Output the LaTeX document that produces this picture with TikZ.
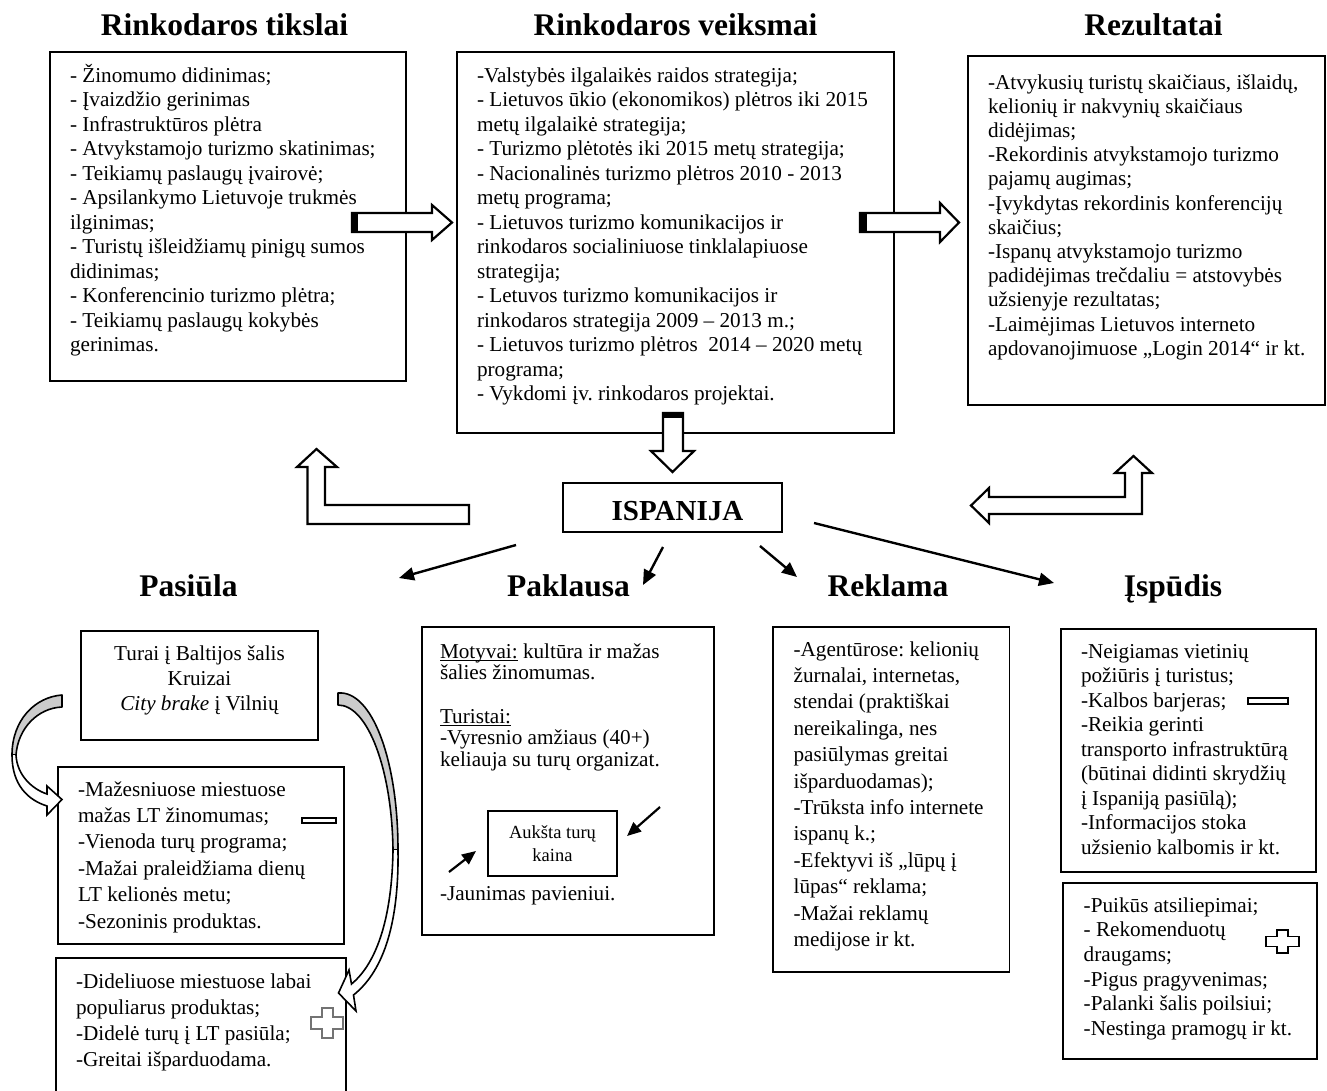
\documentclass[tikz,border=0pt]{standalone}
\usepackage{fontspec}
\setmainfont{Liberation Serif}
\usetikzlibrary{arrows.meta}
\frenchspacing
\newsavebox{\ulbox}
\newcommand{\bodyfs}[1]{\fontsize{21.2}{#1}\selectfont}
\newcommand{\ulx}[1]{\leavevmode\sbox{\ulbox}{#1}\rlap{\rule[-3pt]{\wd\ulbox}{1.1pt}}\usebox{\ulbox}}
\begin{document}
\begin{tikzpicture}[x=1pt,y=-1pt,
  boxst/.style={draw=black, line width=1.3pt, inner sep=0pt, outer sep=0pt, anchor=north west, fill=white},
  titlest/.style={font=\fontsize{31.5}{36}\selectfont\bfseries, inner sep=0pt, anchor=base},
  txt/.style={inner sep=0pt, outer sep=0pt, anchor=base west},
  ctxt/.style={inner sep=0pt, outer sep=0pt, anchor=base},
  blockarrow/.style={draw=black, line width=2.2pt, fill=white, line join=miter},
  linearrow/.style={line width=2.4pt, -{Triangle[length=15pt,width=13pt]}},
  smallarrow/.style={line width=2.2pt, -{Triangle[length=14pt,width=12pt]}},
  curvedback/.style={fill=gray!40, draw=black, line width=1.6pt, line join=round},
  curvedfront/.style={fill=white, draw=black, line width=1.6pt, line join=miter},
  signst/.style={line width=1.8pt, fill=white, line join=miter}
]
\fill[white] (0,0) rectangle (1327,1090);
\useasboundingbox (0,0) rectangle (1327,1090);

% ---------- titles ----------
\node[titlest] (tTikslai) at (224.5,35) {Rinkodaros tikslai};
\node[titlest] (tVeiksmai) at (675.5,35) {Rinkodaros veiksmai};
\node[titlest] (tRezultatai) at (1153.5,35) {Rezultatai};
\node[titlest] (tPasiula) at (188.5,596) {Pasiūla};
\node[titlest] (tPaklausa) at (568.5,596) {Paklausa};
\node[titlest] (tReklama) at (888,596) {Reklama};
\node[titlest] (tIspudis) at (1173,596) {Įspūdis};

% ---------- boxes ----------
\node[boxst, minimum width=356pt, minimum height=329pt] (b1) at (50,52) {};
\node[boxst, minimum width=437pt, minimum height=381pt] (b2) at (457,52) {};
\node[boxst, minimum width=357pt, minimum height=349pt] (b3) at (968,56) {};
\node[boxst, minimum width=219pt, minimum height=49pt] (bIsp) at (563,483) {};
\node[boxst, minimum width=237pt, minimum height=109pt] (bTurai) at (81,631) {};
\node[boxst, minimum width=286pt, minimum height=177pt] (bMinus) at (58,767) {};
\node[boxst, minimum width=290pt, minimum height=150pt] (bPlus) at (56,958) {};
\node[boxst, minimum width=292pt, minimum height=308pt] (bPak) at (422,627) {};
\node[boxst, minimum width=129pt, minimum height=65pt] (bAuk) at (488,811) {};
\node[boxst, minimum width=236.5pt, minimum height=345pt] (bRek) at (773,627) {};
\node[boxst, minimum width=255pt, minimum height=243pt] (bIsp1) at (1061,629) {};
\node[boxst, minimum width=254pt, minimum height=176pt] (bIsp2) at (1063,883) {};

% ---------- texts ----------
\node[txt] (x1) at (70,82) {\parbox[t]{400pt}{\bodyfs{24.5}%
- Žinomumo didinimas;\\
- Įvaizdžio gerinimas\\
- Infrastruktūros plėtra\\
- Atvykstamojo turizmo skatinimas;\\
- Teikiamų paslaugų įvairovė;\\
- Apsilankymo Lietuvoje trukmės\\
ilginimas;\\
- Turistų išleidžiamų pinigų sumos\\
didinimas;\\
- Konferencinio turizmo plėtra;\\
- Teikiamų paslaugų kokybės\\
gerinimas.}};

\node[txt] (x2) at (477,82) {\parbox[t]{450pt}{\bodyfs{24.5}%
-Valstybės ilgalaikės raidos strategija;\\
- Lietuvos ūkio (ekonomikos) plėtros iki 2015\\
metų ilgalaikė strategija;\\
- Turizmo plėtotės iki 2015 metų strategija;\\
- Nacionalinės turizmo plėtros 2010 - 2013\\
metų programa;\\
- Lietuvos turizmo komunikacijos ir\\
rinkodaros socialiniuose tinklalapiuose\\
strategija;\\
- Letuvos turizmo komunikacijos ir\\
rinkodaros strategija 2009 – 2013 m.;\\
- Lietuvos turizmo plėtros\ \ 2014 – 2020 metų\\
programa;\\
- Vykdomi įv. rinkodaros projektai.}};

\node[txt] (x3) at (988,89) {\parbox[t]{400pt}{\bodyfs{24.2}%
-Atvykusių turistų skaičiaus, išlaidų,\\
kelionių ir nakvynių skaičiaus\\
didėjimas;\\
-Rekordinis atvykstamojo turizmo\\
pajamų augimas;\\
-Įvykdytas rekordinis konferencijų\\
skaičius;\\
-Ispanų atvykstamojo turizmo\\
padidėjimas trečdaliu = atstovybės\\
užsienyje rezultatas;\\
-Laimėjimas Lietuvos interneto\\
apdovanojimuose „Login 2014“ ir kt.}};

\node[ctxt, font=\fontsize{29}{34}\selectfont\bfseries] (xIspanija) at (677.5,520) {ISPANIJA};

\node[ctxt] (xTurai) at (199.5,660) {\parbox[t]{237pt}{\centering\bodyfs{25}%
Turai į Baltijos šalis\\
Kruizai\\
\textit{City brake} į Vilnių}};

\node[txt] (xMinus) at (78,796) {\parbox[t]{400pt}{\bodyfs{26.4}%
-Mažesniuose miestuose\\
mažas LT žinomumas;\\
-Vienoda turų programa;\\
-Mažai praleidžiama dienų\\
LT kelionės metu;\\
-Sezoninis produktas.}};

\node[txt] (xPlus) at (76,988) {\parbox[t]{400pt}{\bodyfs{26.3}%
-Dideliuose miestuose labai\\
populiarus produktas;\\
-Didelė turų į LT pasiūla;\\
-Greitai išparduodama.}};

\node[txt] (xPak) at (440,658) {\parbox[t]{400pt}{\bodyfs{21.7}%
\ulx{Motyvai:} kultūra ir mažas\\
šalies žinomumas.\\
\mbox{}\\
\ulx{Turistai:}\\
-Vyresnio amžiaus (40+)\\
keliauja su turų organizat.}};
\node[txt] (xJaun) at (440,900) {\bodyfs{21.7}-Jaunimas pavieniui.};

\node[ctxt] (xAuk) at (552.5,838) {\parbox[t]{129pt}{\centering\fontsize{18.5}{23}\selectfont
Aukšta turų\\
kaina}};

\node[txt] (xRek) at (793.6,656) {\parbox[t]{400pt}{\bodyfs{26.4}%
-Agentūrose: kelionių\\
žurnalai, internetas,\\
stendai (praktiškai\\
nereikalinga, nes\\
pasiūlymas greitai\\
išparduodamas);\\
-Trūksta info internete\\
ispanų k.;\\
-Efektyvi iš „lūpų į\\
lūpas“ reklama;\\
-Mažai reklamų\\
medijose ir kt.}};

\node[txt] (xIsp1) at (1081,658) {\parbox[t]{400pt}{\bodyfs{24.5}%
-Neigiamas vietinių\\
požiūris į turistus;\\
-Kalbos barjeras;\\
-Reikia gerinti\\
transporto infrastruktūrą\\
(būtinai didinti skrydžių\\
į Ispaniją pasiūlą);\\
-Informacijos stoka\\
užsienio kalbomis ir kt.}};

\node[txt] (xIsp2) at (1083.7,912) {\parbox[t]{400pt}{\bodyfs{24.7}%
-Puikūs atsiliepimai;\\
- Rekomenduotų\\
draugams;\\
-Pigus pragyvenimas;\\
-Palanki šalis poilsiui;\\
-Nestinga pramogų ir kt.}};

% ---------- block arrows ----------
\draw[blockarrow] (352,213) -- (432,213) -- (432,205) -- (452,222.5) -- (432,240) -- (432,232) -- (352,232) -- cycle;
\fill[black] (351,212) rectangle (358,233);
\draw[blockarrow] (860,213) -- (940,213) -- (940,203) -- (959,222.5) -- (940,242) -- (940,232) -- (860,232) -- cycle;
\fill[black] (859,212) rectangle (867,233);
\draw[blockarrow] (663,413) -- (663,451) -- (651,451) -- (672.5,472) -- (694,451) -- (683,451) -- (683,413) -- cycle;
\fill[black] (662,412) rectangle (684,418);

% L arrow towards Rinkodaros tikslai
\draw[blockarrow] (469,505) -- (325,505) -- (325,467) -- (337,467) -- (316.5,449) -- (297,467) -- (307.5,467) -- (307.5,524) -- (469,524) -- cycle;
% left-up arrow towards Rezultatai
\draw[blockarrow] (971,505.5) -- (989,488) -- (989,497) -- (1125,497) -- (1125,473) -- (1115,473) -- (1133.5,456) -- (1152,473) -- (1142,473) -- (1142,514) -- (989,514) -- (989,523) -- cycle;

% ---------- line arrows from ISPANIJA ----------
\coordinate (aPasS) at (516,545);   \coordinate (aPasE) at (399,578);
\coordinate (aPakS) at (663,547);   \coordinate (aPakE) at (643,585);
\coordinate (aRekS) at (760,546);   \coordinate (aRekE) at (797,577);
\coordinate (aIspS) at (814,523);   \coordinate (aIspE) at (1054,583);
\draw[linearrow] (aPasS) -- (aPasE);
\draw[linearrow] (aPakS) -- (aPakE);
\draw[linearrow] (aRekS) -- (aRekE);
\draw[linearrow] (aIspS) -- (aIspE);

% small arrows towards "Aukšta turų kaina"
\coordinate (sA1) at (449,872); \coordinate (sA1e) at (476,851);
\coordinate (sA2) at (660,807); \coordinate (sA2e) at (627,836);
\draw[smallarrow] (sA1) -- (sA1e);
\draw[smallarrow] (sA2) -- (sA2e);

% ---------- curved arrows (Pasiūla) ----------
\filldraw[curvedback] (62,695) .. controls (35,697) and (12,720) .. (12,755) -- (16,755) .. controls (18,728) and (38,708) .. (62,707) -- cycle;
\filldraw[curvedfront] (16,755) .. controls (17,775) and (32,789) .. (47,794) -- (47,786) -- (62,799.5) -- (47,815) -- (47,806) .. controls (28,800) and (12,785) .. (12,755);

\filldraw[curvedback] (338,693) .. controls (372,690) and (398,760) .. (398,850) -- (393,850) .. controls (392,770) and (368,705) .. (338,705) -- cycle;
\filldraw[curvedfront] (393,850) .. controls (392,915) and (378,962) .. (351.5,984) -- (349,970) -- (338.5,993) -- (356,1011) -- (353.5,995) .. controls (385,970) and (399,920) .. (398,850);

% ---------- minus and plus signs ----------
\draw[signst] (302,818) rectangle (336,823);
\draw[signst] (1248,698) rectangle (1288,704);
\draw[signst, draw=black!55] (321.7,1008) -- (333.3,1008) -- (333.3,1017) -- (343,1017) -- (343,1029) -- (333.3,1029) -- (333.3,1038) -- (321.7,1038) -- (321.7,1029) -- (310.7,1029) -- (310.7,1017) -- (321.7,1017) -- cycle;
\draw[signst] (1277,930) -- (1288,930) -- (1288,936.5) -- (1299,936.5) -- (1299,946.5) -- (1288,946.5) -- (1288,953) -- (1277,953) -- (1277,946.5) -- (1266,946.5) -- (1266,936.5) -- (1277,936.5) -- cycle;
\end{tikzpicture}
\end{document}
